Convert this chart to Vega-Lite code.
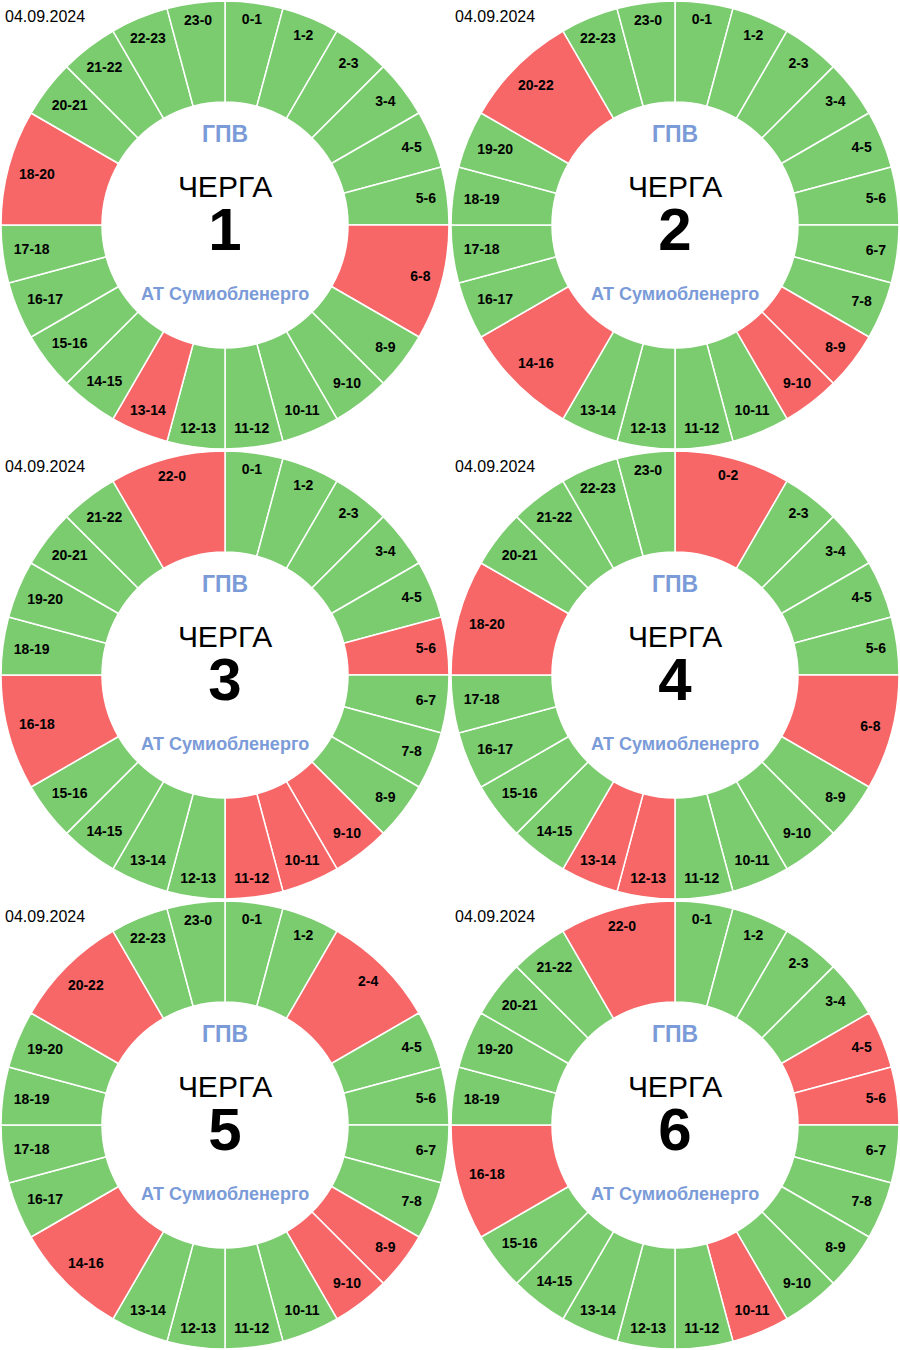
{
"$schema": "https://vega.github.io/schema/vega-lite/v6.json",
"padding": 0,
"spacing": 0,
"columns": 2,
"bounds": "flush",
"background": "white",
"config": {"view": {"stroke": null}, "font": "Liberation Sans", "concat": {"spacing": 0}},
"data": {"values": [
{"q":1,"s":0,"h":1,"l":"0-1","st":"on"},{"q":1,"s":1,"h":1,"l":"1-2","st":"on"},{"q":1,"s":2,"h":1,"l":"2-3","st":"on"},{"q":1,"s":3,"h":1,"l":"3-4","st":"on"},{"q":1,"s":4,"h":1,"l":"4-5","st":"on"},{"q":1,"s":5,"h":1,"l":"5-6","st":"on"},{"q":1,"s":6,"h":2,"l":"6-8","st":"off"},{"q":1,"s":8,"h":1,"l":"8-9","st":"on"},{"q":1,"s":9,"h":1,"l":"9-10","st":"on"},{"q":1,"s":10,"h":1,"l":"10-11","st":"on"},{"q":1,"s":11,"h":1,"l":"11-12","st":"on"},{"q":1,"s":12,"h":1,"l":"12-13","st":"on"},{"q":1,"s":13,"h":1,"l":"13-14","st":"off"},{"q":1,"s":14,"h":1,"l":"14-15","st":"on"},{"q":1,"s":15,"h":1,"l":"15-16","st":"on"},{"q":1,"s":16,"h":1,"l":"16-17","st":"on"},{"q":1,"s":17,"h":1,"l":"17-18","st":"on"},{"q":1,"s":18,"h":2,"l":"18-20","st":"off"},{"q":1,"s":20,"h":1,"l":"20-21","st":"on"},{"q":1,"s":21,"h":1,"l":"21-22","st":"on"},{"q":1,"s":22,"h":1,"l":"22-23","st":"on"},{"q":1,"s":23,"h":1,"l":"23-0","st":"on"},
{"q":2,"s":0,"h":1,"l":"0-1","st":"on"},{"q":2,"s":1,"h":1,"l":"1-2","st":"on"},{"q":2,"s":2,"h":1,"l":"2-3","st":"on"},{"q":2,"s":3,"h":1,"l":"3-4","st":"on"},{"q":2,"s":4,"h":1,"l":"4-5","st":"on"},{"q":2,"s":5,"h":1,"l":"5-6","st":"on"},{"q":2,"s":6,"h":1,"l":"6-7","st":"on"},{"q":2,"s":7,"h":1,"l":"7-8","st":"on"},{"q":2,"s":8,"h":1,"l":"8-9","st":"off"},{"q":2,"s":9,"h":1,"l":"9-10","st":"off"},{"q":2,"s":10,"h":1,"l":"10-11","st":"on"},{"q":2,"s":11,"h":1,"l":"11-12","st":"on"},{"q":2,"s":12,"h":1,"l":"12-13","st":"on"},{"q":2,"s":13,"h":1,"l":"13-14","st":"on"},{"q":2,"s":14,"h":2,"l":"14-16","st":"off"},{"q":2,"s":16,"h":1,"l":"16-17","st":"on"},{"q":2,"s":17,"h":1,"l":"17-18","st":"on"},{"q":2,"s":18,"h":1,"l":"18-19","st":"on"},{"q":2,"s":19,"h":1,"l":"19-20","st":"on"},{"q":2,"s":20,"h":2,"l":"20-22","st":"off"},{"q":2,"s":22,"h":1,"l":"22-23","st":"on"},{"q":2,"s":23,"h":1,"l":"23-0","st":"on"},
{"q":3,"s":0,"h":1,"l":"0-1","st":"on"},{"q":3,"s":1,"h":1,"l":"1-2","st":"on"},{"q":3,"s":2,"h":1,"l":"2-3","st":"on"},{"q":3,"s":3,"h":1,"l":"3-4","st":"on"},{"q":3,"s":4,"h":1,"l":"4-5","st":"on"},{"q":3,"s":5,"h":1,"l":"5-6","st":"off"},{"q":3,"s":6,"h":1,"l":"6-7","st":"on"},{"q":3,"s":7,"h":1,"l":"7-8","st":"on"},{"q":3,"s":8,"h":1,"l":"8-9","st":"on"},{"q":3,"s":9,"h":1,"l":"9-10","st":"off"},{"q":3,"s":10,"h":1,"l":"10-11","st":"off"},{"q":3,"s":11,"h":1,"l":"11-12","st":"off"},{"q":3,"s":12,"h":1,"l":"12-13","st":"on"},{"q":3,"s":13,"h":1,"l":"13-14","st":"on"},{"q":3,"s":14,"h":1,"l":"14-15","st":"on"},{"q":3,"s":15,"h":1,"l":"15-16","st":"on"},{"q":3,"s":16,"h":2,"l":"16-18","st":"off"},{"q":3,"s":18,"h":1,"l":"18-19","st":"on"},{"q":3,"s":19,"h":1,"l":"19-20","st":"on"},{"q":3,"s":20,"h":1,"l":"20-21","st":"on"},{"q":3,"s":21,"h":1,"l":"21-22","st":"on"},{"q":3,"s":22,"h":2,"l":"22-0","st":"off"},
{"q":4,"s":0,"h":2,"l":"0-2","st":"off"},{"q":4,"s":2,"h":1,"l":"2-3","st":"on"},{"q":4,"s":3,"h":1,"l":"3-4","st":"on"},{"q":4,"s":4,"h":1,"l":"4-5","st":"on"},{"q":4,"s":5,"h":1,"l":"5-6","st":"on"},{"q":4,"s":6,"h":2,"l":"6-8","st":"off"},{"q":4,"s":8,"h":1,"l":"8-9","st":"on"},{"q":4,"s":9,"h":1,"l":"9-10","st":"on"},{"q":4,"s":10,"h":1,"l":"10-11","st":"on"},{"q":4,"s":11,"h":1,"l":"11-12","st":"on"},{"q":4,"s":12,"h":1,"l":"12-13","st":"off"},{"q":4,"s":13,"h":1,"l":"13-14","st":"off"},{"q":4,"s":14,"h":1,"l":"14-15","st":"on"},{"q":4,"s":15,"h":1,"l":"15-16","st":"on"},{"q":4,"s":16,"h":1,"l":"16-17","st":"on"},{"q":4,"s":17,"h":1,"l":"17-18","st":"on"},{"q":4,"s":18,"h":2,"l":"18-20","st":"off"},{"q":4,"s":20,"h":1,"l":"20-21","st":"on"},{"q":4,"s":21,"h":1,"l":"21-22","st":"on"},{"q":4,"s":22,"h":1,"l":"22-23","st":"on"},{"q":4,"s":23,"h":1,"l":"23-0","st":"on"},
{"q":5,"s":0,"h":1,"l":"0-1","st":"on"},{"q":5,"s":1,"h":1,"l":"1-2","st":"on"},{"q":5,"s":2,"h":2,"l":"2-4","st":"off"},{"q":5,"s":4,"h":1,"l":"4-5","st":"on"},{"q":5,"s":5,"h":1,"l":"5-6","st":"on"},{"q":5,"s":6,"h":1,"l":"6-7","st":"on"},{"q":5,"s":7,"h":1,"l":"7-8","st":"on"},{"q":5,"s":8,"h":1,"l":"8-9","st":"off"},{"q":5,"s":9,"h":1,"l":"9-10","st":"off"},{"q":5,"s":10,"h":1,"l":"10-11","st":"on"},{"q":5,"s":11,"h":1,"l":"11-12","st":"on"},{"q":5,"s":12,"h":1,"l":"12-13","st":"on"},{"q":5,"s":13,"h":1,"l":"13-14","st":"on"},{"q":5,"s":14,"h":2,"l":"14-16","st":"off"},{"q":5,"s":16,"h":1,"l":"16-17","st":"on"},{"q":5,"s":17,"h":1,"l":"17-18","st":"on"},{"q":5,"s":18,"h":1,"l":"18-19","st":"on"},{"q":5,"s":19,"h":1,"l":"19-20","st":"on"},{"q":5,"s":20,"h":2,"l":"20-22","st":"off"},{"q":5,"s":22,"h":1,"l":"22-23","st":"on"},{"q":5,"s":23,"h":1,"l":"23-0","st":"on"},
{"q":6,"s":0,"h":1,"l":"0-1","st":"on"},{"q":6,"s":1,"h":1,"l":"1-2","st":"on"},{"q":6,"s":2,"h":1,"l":"2-3","st":"on"},{"q":6,"s":3,"h":1,"l":"3-4","st":"on"},{"q":6,"s":4,"h":1,"l":"4-5","st":"off"},{"q":6,"s":5,"h":1,"l":"5-6","st":"off"},{"q":6,"s":6,"h":1,"l":"6-7","st":"on"},{"q":6,"s":7,"h":1,"l":"7-8","st":"on"},{"q":6,"s":8,"h":1,"l":"8-9","st":"on"},{"q":6,"s":9,"h":1,"l":"9-10","st":"on"},{"q":6,"s":10,"h":1,"l":"10-11","st":"off"},{"q":6,"s":11,"h":1,"l":"11-12","st":"on"},{"q":6,"s":12,"h":1,"l":"12-13","st":"on"},{"q":6,"s":13,"h":1,"l":"13-14","st":"on"},{"q":6,"s":14,"h":1,"l":"14-15","st":"on"},{"q":6,"s":15,"h":1,"l":"15-16","st":"on"},{"q":6,"s":16,"h":2,"l":"16-18","st":"off"},{"q":6,"s":18,"h":1,"l":"18-19","st":"on"},{"q":6,"s":19,"h":1,"l":"19-20","st":"on"},{"q":6,"s":20,"h":1,"l":"20-21","st":"on"},{"q":6,"s":21,"h":1,"l":"21-22","st":"on"},{"q":6,"s":22,"h":2,"l":"22-0","st":"off"}
]},
"concat": [
{"width":450,"height":450,"transform":[{"filter":"datum.q==1"}],
 "title":{"text":"04.09.2024","anchor":"start","offset":-25,"dx":5,"fontSize":16,"fontWeight":"normal","font":"Liberation Sans","color":"black"},
 "layer":[
  {"mark":{"type":"arc","innerRadius":123,"outerRadius":224,"stroke":"white","strokeWidth":1.5,"strokeJoin":"round"},"encoding":{"theta":{"field":"h","type":"quantitative","stack":true},"order":{"field":"s","type":"quantitative"},"color":{"field":"st","type":"nominal","scale":{"domain":["on","off"],"range":["#7acc6e","#f76767"]},"legend":null}}},
  {"mark":{"type":"text","radius":{"expr":"213.5-(length(datum.l)*3.9-1.5)*abs(sin(PI*(datum.h_start+datum.h_end)/24))-5.5*abs(cos(PI*(datum.h_start+datum.h_end)/24))"},"fontWeight":"bold","fontSize":14,"fill":"black"},"encoding":{"theta":{"field":"h","type":"quantitative","stack":true},"order":{"field":"s","type":"quantitative"},"text":{"field":"l"}}},
  {"transform":[{"filter":"datum.s==0"}],"mark":{"type":"text","text":"ГПВ","dy":-90,"fontSize":23,"fontWeight":"bold","fill":"#7b9bd8"},"encoding":{}},
  {"transform":[{"filter":"datum.s==0"}],"mark":{"type":"text","text":"ЧЕРГА","dy":-37,"fontSize":30,"fill":"black"},"encoding":{}},
  {"transform":[{"filter":"datum.s==0"}],"mark":{"type":"text","dy":7,"fontSize":60,"fontWeight":"bold","fill":"black"},"encoding":{"text":{"field":"q"}}},
  {"transform":[{"filter":"datum.s==0"}],"mark":{"type":"text","text":"АТ Сумиобленерго","dy":70,"fontSize":18,"fontWeight":"bold","fill":"#7b9bd8"},"encoding":{}}
 ]},
{"width":450,"height":450,"transform":[{"filter":"datum.q==2"}],
 "title":{"text":"04.09.2024","anchor":"start","offset":-25,"dx":5,"fontSize":16,"fontWeight":"normal","font":"Liberation Sans","color":"black"},
 "layer":[
  {"mark":{"type":"arc","innerRadius":123,"outerRadius":224,"stroke":"white","strokeWidth":1.5,"strokeJoin":"round"},"encoding":{"theta":{"field":"h","type":"quantitative","stack":true},"order":{"field":"s","type":"quantitative"},"color":{"field":"st","type":"nominal","scale":{"domain":["on","off"],"range":["#7acc6e","#f76767"]},"legend":null}}},
  {"mark":{"type":"text","radius":{"expr":"213.5-(length(datum.l)*3.9-1.5)*abs(sin(PI*(datum.h_start+datum.h_end)/24))-5.5*abs(cos(PI*(datum.h_start+datum.h_end)/24))"},"fontWeight":"bold","fontSize":14,"fill":"black"},"encoding":{"theta":{"field":"h","type":"quantitative","stack":true},"order":{"field":"s","type":"quantitative"},"text":{"field":"l"}}},
  {"transform":[{"filter":"datum.s==0"}],"mark":{"type":"text","text":"ГПВ","dy":-90,"fontSize":23,"fontWeight":"bold","fill":"#7b9bd8"},"encoding":{}},
  {"transform":[{"filter":"datum.s==0"}],"mark":{"type":"text","text":"ЧЕРГА","dy":-37,"fontSize":30,"fill":"black"},"encoding":{}},
  {"transform":[{"filter":"datum.s==0"}],"mark":{"type":"text","dy":7,"fontSize":60,"fontWeight":"bold","fill":"black"},"encoding":{"text":{"field":"q"}}},
  {"transform":[{"filter":"datum.s==0"}],"mark":{"type":"text","text":"АТ Сумиобленерго","dy":70,"fontSize":18,"fontWeight":"bold","fill":"#7b9bd8"},"encoding":{}}
 ]},
{"width":450,"height":450,"transform":[{"filter":"datum.q==3"}],
 "title":{"text":"04.09.2024","anchor":"start","offset":-25,"dx":5,"fontSize":16,"fontWeight":"normal","font":"Liberation Sans","color":"black"},
 "layer":[
  {"mark":{"type":"arc","innerRadius":123,"outerRadius":224,"stroke":"white","strokeWidth":1.5,"strokeJoin":"round"},"encoding":{"theta":{"field":"h","type":"quantitative","stack":true},"order":{"field":"s","type":"quantitative"},"color":{"field":"st","type":"nominal","scale":{"domain":["on","off"],"range":["#7acc6e","#f76767"]},"legend":null}}},
  {"mark":{"type":"text","radius":{"expr":"213.5-(length(datum.l)*3.9-1.5)*abs(sin(PI*(datum.h_start+datum.h_end)/24))-5.5*abs(cos(PI*(datum.h_start+datum.h_end)/24))"},"fontWeight":"bold","fontSize":14,"fill":"black"},"encoding":{"theta":{"field":"h","type":"quantitative","stack":true},"order":{"field":"s","type":"quantitative"},"text":{"field":"l"}}},
  {"transform":[{"filter":"datum.s==0"}],"mark":{"type":"text","text":"ГПВ","dy":-90,"fontSize":23,"fontWeight":"bold","fill":"#7b9bd8"},"encoding":{}},
  {"transform":[{"filter":"datum.s==0"}],"mark":{"type":"text","text":"ЧЕРГА","dy":-37,"fontSize":30,"fill":"black"},"encoding":{}},
  {"transform":[{"filter":"datum.s==0"}],"mark":{"type":"text","dy":7,"fontSize":60,"fontWeight":"bold","fill":"black"},"encoding":{"text":{"field":"q"}}},
  {"transform":[{"filter":"datum.s==0"}],"mark":{"type":"text","text":"АТ Сумиобленерго","dy":70,"fontSize":18,"fontWeight":"bold","fill":"#7b9bd8"},"encoding":{}}
 ]},
{"width":450,"height":450,"transform":[{"filter":"datum.q==4"}],
 "title":{"text":"04.09.2024","anchor":"start","offset":-25,"dx":5,"fontSize":16,"fontWeight":"normal","font":"Liberation Sans","color":"black"},
 "layer":[
  {"mark":{"type":"arc","innerRadius":123,"outerRadius":224,"stroke":"white","strokeWidth":1.5,"strokeJoin":"round"},"encoding":{"theta":{"field":"h","type":"quantitative","stack":true},"order":{"field":"s","type":"quantitative"},"color":{"field":"st","type":"nominal","scale":{"domain":["on","off"],"range":["#7acc6e","#f76767"]},"legend":null}}},
  {"mark":{"type":"text","radius":{"expr":"213.5-(length(datum.l)*3.9-1.5)*abs(sin(PI*(datum.h_start+datum.h_end)/24))-5.5*abs(cos(PI*(datum.h_start+datum.h_end)/24))"},"fontWeight":"bold","fontSize":14,"fill":"black"},"encoding":{"theta":{"field":"h","type":"quantitative","stack":true},"order":{"field":"s","type":"quantitative"},"text":{"field":"l"}}},
  {"transform":[{"filter":"datum.s==0"}],"mark":{"type":"text","text":"ГПВ","dy":-90,"fontSize":23,"fontWeight":"bold","fill":"#7b9bd8"},"encoding":{}},
  {"transform":[{"filter":"datum.s==0"}],"mark":{"type":"text","text":"ЧЕРГА","dy":-37,"fontSize":30,"fill":"black"},"encoding":{}},
  {"transform":[{"filter":"datum.s==0"}],"mark":{"type":"text","dy":7,"fontSize":60,"fontWeight":"bold","fill":"black"},"encoding":{"text":{"field":"q"}}},
  {"transform":[{"filter":"datum.s==0"}],"mark":{"type":"text","text":"АТ Сумиобленерго","dy":70,"fontSize":18,"fontWeight":"bold","fill":"#7b9bd8"},"encoding":{}}
 ]},
{"width":450,"height":450,"transform":[{"filter":"datum.q==5"}],
 "title":{"text":"04.09.2024","anchor":"start","offset":-25,"dx":5,"fontSize":16,"fontWeight":"normal","font":"Liberation Sans","color":"black"},
 "layer":[
  {"mark":{"type":"arc","innerRadius":123,"outerRadius":224,"stroke":"white","strokeWidth":1.5,"strokeJoin":"round"},"encoding":{"theta":{"field":"h","type":"quantitative","stack":true},"order":{"field":"s","type":"quantitative"},"color":{"field":"st","type":"nominal","scale":{"domain":["on","off"],"range":["#7acc6e","#f76767"]},"legend":null}}},
  {"mark":{"type":"text","radius":{"expr":"213.5-(length(datum.l)*3.9-1.5)*abs(sin(PI*(datum.h_start+datum.h_end)/24))-5.5*abs(cos(PI*(datum.h_start+datum.h_end)/24))"},"fontWeight":"bold","fontSize":14,"fill":"black"},"encoding":{"theta":{"field":"h","type":"quantitative","stack":true},"order":{"field":"s","type":"quantitative"},"text":{"field":"l"}}},
  {"transform":[{"filter":"datum.s==0"}],"mark":{"type":"text","text":"ГПВ","dy":-90,"fontSize":23,"fontWeight":"bold","fill":"#7b9bd8"},"encoding":{}},
  {"transform":[{"filter":"datum.s==0"}],"mark":{"type":"text","text":"ЧЕРГА","dy":-37,"fontSize":30,"fill":"black"},"encoding":{}},
  {"transform":[{"filter":"datum.s==0"}],"mark":{"type":"text","dy":7,"fontSize":60,"fontWeight":"bold","fill":"black"},"encoding":{"text":{"field":"q"}}},
  {"transform":[{"filter":"datum.s==0"}],"mark":{"type":"text","text":"АТ Сумиобленерго","dy":70,"fontSize":18,"fontWeight":"bold","fill":"#7b9bd8"},"encoding":{}}
 ]},
{"width":450,"height":450,"transform":[{"filter":"datum.q==6"}],
 "title":{"text":"04.09.2024","anchor":"start","offset":-25,"dx":5,"fontSize":16,"fontWeight":"normal","font":"Liberation Sans","color":"black"},
 "layer":[
  {"mark":{"type":"arc","innerRadius":123,"outerRadius":224,"stroke":"white","strokeWidth":1.5,"strokeJoin":"round"},"encoding":{"theta":{"field":"h","type":"quantitative","stack":true},"order":{"field":"s","type":"quantitative"},"color":{"field":"st","type":"nominal","scale":{"domain":["on","off"],"range":["#7acc6e","#f76767"]},"legend":null}}},
  {"mark":{"type":"text","radius":{"expr":"213.5-(length(datum.l)*3.9-1.5)*abs(sin(PI*(datum.h_start+datum.h_end)/24))-5.5*abs(cos(PI*(datum.h_start+datum.h_end)/24))"},"fontWeight":"bold","fontSize":14,"fill":"black"},"encoding":{"theta":{"field":"h","type":"quantitative","stack":true},"order":{"field":"s","type":"quantitative"},"text":{"field":"l"}}},
  {"transform":[{"filter":"datum.s==0"}],"mark":{"type":"text","text":"ГПВ","dy":-90,"fontSize":23,"fontWeight":"bold","fill":"#7b9bd8"},"encoding":{}},
  {"transform":[{"filter":"datum.s==0"}],"mark":{"type":"text","text":"ЧЕРГА","dy":-37,"fontSize":30,"fill":"black"},"encoding":{}},
  {"transform":[{"filter":"datum.s==0"}],"mark":{"type":"text","dy":7,"fontSize":60,"fontWeight":"bold","fill":"black"},"encoding":{"text":{"field":"q"}}},
  {"transform":[{"filter":"datum.s==0"}],"mark":{"type":"text","text":"АТ Сумиобленерго","dy":70,"fontSize":18,"fontWeight":"bold","fill":"#7b9bd8"},"encoding":{}}
 ]}
]
}
